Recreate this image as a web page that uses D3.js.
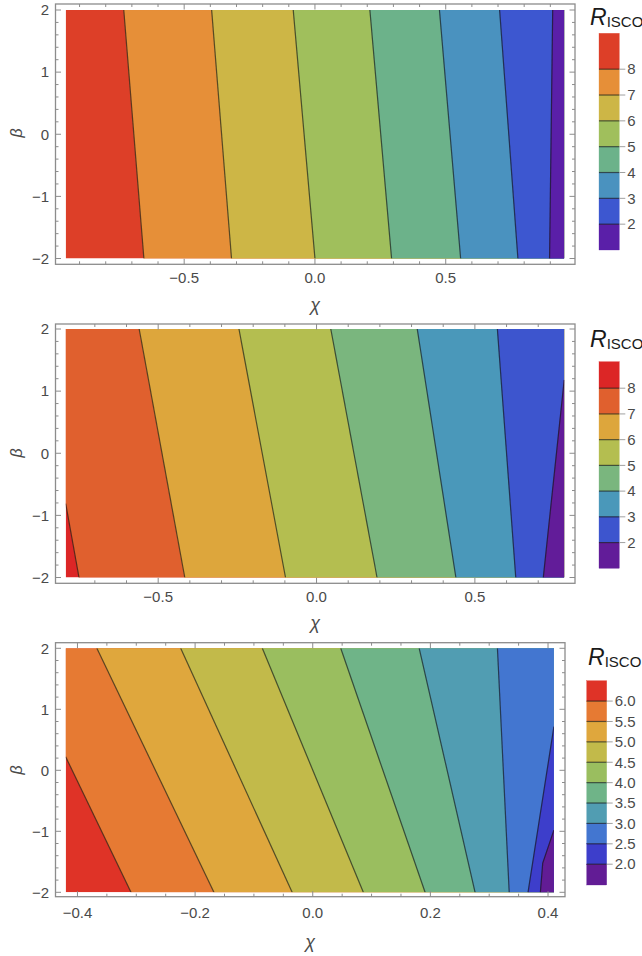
<!DOCTYPE html>
<html>
<head>
<meta charset="utf-8">
<script src="https://cdn.jsdelivr.net/npm/d3@7"></script>
<style>
  html, body { margin: 0; padding: 0; background: #fff; }
  svg { display: block; }
  text { font-family: "Liberation Sans", Arial, Helvetica, sans-serif; }
</style>
</head>
<body>
<svg id="chart" width="642" height="956"></svg>
<script>
// ---------------- DATA ----------------
const betaRange = [-2, 2];
const betaTicks = [-2, -1, 0, 1, 2];

// Panel 1
const chiRange1 = [-0.953, 0.953];
const chiTicks1 = [-0.5, 0.0, 0.5];
const levels1 = [8, 7, 6, 5, 4, 3, 2];
const colors1 = ["#dd3f28", "#e68f38", "#cdb646", "#a0bf5c", "#6cb28a", "#4a92bf", "#3d57d0", "#5a1fa8"];
const contours1 = [
  [[-0.731, 2], [-0.654, -2]],
  [[-0.395, 2], [-0.319, -2]],
  [[-0.083, 2], [0.000, -2]],
  [[0.210, 2], [0.293, -2]],
  [[0.476, 2], [0.557, -2]],
  [[0.706, 2], [0.776, -2]],
  [[0.909, 2], [0.897, -2]]
];
const legendRange1 = [1.0, 9.39];
const legendTicks1 = ["8", "7", "6", "5", "4", "3", "2"];

// Panel 2
const chiRange2 = [-0.792, 0.782];
const chiTicks2 = [-0.5, 0.0, 0.5];
const levels2 = [8, 7, 6, 5, 4, 3, 2];
const colors2 = ["#dc2626", "#e0602e", "#dda63c", "#b4be50", "#7ab67e", "#4a98ba", "#3d55ce", "#621c99"];
const contours2 = [
  [[-0.792, -0.81], [-0.750, -2]],
  [[-0.560, 2], [-0.416, -2]],
  [[-0.245, 2], [-0.098, -2]],
  [[0.045, 2], [0.191, -2]],
  [[0.318, 2], [0.440, -2]],
  [[0.571, 2], [0.629, -2]],
  [[0.782, 1.18], [0.716, -2]]
];
const legendRange2 = [1.0, 9.03];
const legendTicks2 = ["8", "7", "6", "5", "4", "3", "2"];

// Panel 3
const chiRange3 = [-0.42, 0.41];
const chiTicks3 = [-0.4, -0.2, 0.0, 0.2, 0.4];
const levels3 = [6.0, 5.5, 5.0, 4.5, 4.0, 3.5, 3.0, 2.5, 2.0];
const colors3 = ["#df3327", "#e67a33", "#dfa73d", "#c2ba4a", "#9abe5f", "#6fb488", "#519db2", "#4376d0", "#3d3ecb", "#621c95"];
const contours3 = [
  [[-0.42, 0.22], [-0.309, -2]],
  [[-0.367, 2], [-0.168, -2]],
  [[-0.2245, 2], [-0.035, -2]],
  [[-0.0857, 2], [0.086, -2]],
  [[0.0476, 2], [0.191, -2]],
  [[0.181, 2], [0.276, -2]],
  [[0.314, 2], [0.334, -2]],
  [[0.41, 0.715], [0.366, -2]],
  [[0.41, -0.98], [0.391, -1.52], [0.387, -2]]
];
const legendRange3 = [1.49, 6.5];
const legendTicks3 = ["6.0", "5.5", "5.0", "4.5", "4.0", "3.5", "3.0", "2.5", "2.0"];

// ---------------- LAYOUT ----------------
const panels = [
  { chiRange: chiRange1, chiTicks: chiTicks1, chiMinor: 0.1, levels: levels1, colors: colors1, contours: contours1,
    legendRange: legendRange1, legendTicks: legendTicks1, tickFmt: d3.format(".1f"),
    frame: [55.5, 4, 575, 264.3], plotX: [65.7, 564.2], plotY: [258.5, 10],
    xLabY: 277.5, chiY: 305, betaY: 133,
    bar: [599, 619.3], barY: [250, 33.3], titleX: 590, titleY: 25 },
  { chiRange: chiRange2, chiTicks: chiTicks2, chiMinor: 0.1, levels: levels2, colors: colors2, contours: contours2,
    legendRange: legendRange2, legendTicks: legendTicks2, tickFmt: d3.format(".1f"),
    frame: [55.5, 324, 575, 583.3], plotX: [65.7, 564.2], plotY: [577.5, 329],
    xLabY: 597, chiY: 623, betaY: 453,
    bar: [599, 619.3], barY: [568.3, 361.7], titleX: 590, titleY: 347 },
  { chiRange: chiRange3, chiTicks: chiTicks3, chiMinor: 0.05, levels: levels3, colors: colors3, contours: contours3,
    legendRange: legendRange3, legendTicks: legendTicks3, tickFmt: d3.format(".1f"),
    frame: [55.5, 642.7, 565, 896.7], plotX: [65.7, 553.9], plotY: [892.3, 648.3],
    xLabY: 913, chiY: 942, betaY: 770,
    bar: [586.7, 606.7], barY: [885, 680.7], titleX: 588, titleY: 665 }
];

const svg = d3.select("#chart");
const frameColor = "#8c8c8c";
const labelColor = "#4a4a4a";

function minusFmt(f) {
  return v => f(v).replace("-", "\u2212");
}

panels.forEach((P, pi) => {
  const g = svg.append("g");
  const x = d3.scaleLinear().domain(P.chiRange).range(P.plotX);
  const y = d3.scaleLinear().domain(betaRange).range(P.plotY);
  const [xd0, xd1] = P.chiRange;

  function perim(p) {
    const nx = (p[0] - xd0) / (xd1 - xd0), ny = (p[1] - betaRange[0]) / (betaRange[1] - betaRange[0]);
    const d = [1 - ny, 1 - nx, ny, nx];
    const e = d.indexOf(Math.min(...d));
    if (e === 0) return nx;
    if (e === 1) return 1 + (1 - ny);
    if (e === 2) return 2 + (1 - nx);
    return 3 + ny;
  }
  const corners = [[xd0, 2], [xd1, 2], [xd1, -2], [xd0, -2]];
  const mod4 = v => ((v % 4) + 4) % 4;
  function lowRegion(line) {
    const ts = perim(line[0]), te = perim(line[line.length - 1]);
    const span = mod4(te - ts);
    const cs = [0, 1, 2, 3].filter(c => mod4(te - c) < span && mod4(te - c) > 0)
      .sort((a, b) => mod4(te - a) - mod4(te - b));
    return line.concat(cs.map(c => corners[c]));
  }
  const path = d3.line().x(d => x(d[0])).y(d => y(d[1]));

  const clipId = "clip" + pi;
  g.append("clipPath").attr("id", clipId).append("rect")
    .attr("x", P.plotX[0]).attr("y", P.plotY[1])
    .attr("width", P.plotX[1] - P.plotX[0]).attr("height", P.plotY[0] - P.plotY[1]);
  const plot = g.append("g").attr("clip-path", `url(#${clipId})`);

  plot.append("rect")
    .attr("x", x(xd0)).attr("y", y(2))
    .attr("width", x(xd1) - x(xd0)).attr("height", y(-2) - y(2))
    .attr("fill", P.colors[0]);
  P.contours.forEach((line, i) => {
    plot.append("path")
      .attr("d", path(lowRegion(line)) + "Z")
      .attr("fill", P.colors[i + 1])
      .attr("stroke", P.colors[i + 1]).attr("stroke-width", 0.5);
  });
  P.contours.forEach(line => {
    plot.append("path").attr("d", path(line))
      .attr("fill", "none").attr("stroke", "rgba(20,20,20,0.65)").attr("stroke-width", 1.2);
  });

  const [fx0, fy0, fx1, fy1] = P.frame;
  g.append("rect").attr("x", fx0).attr("y", fy0).attr("width", fx1 - fx0).attr("height", fy1 - fy0)
    .attr("fill", "none").attr("stroke", frameColor).attr("stroke-width", 1.3);

  const tk = g.append("g").attr("stroke", frameColor).attr("stroke-width", 1);
  const eps = 1e-9;
  const xMin = d3.range(Math.ceil(xd0 / P.chiMinor - eps), Math.floor(xd1 / P.chiMinor + eps) + 1).map(k => k * P.chiMinor);
  xMin.forEach(v => {
    const major = P.chiTicks.some(t => Math.abs(t - v) < 1e-6);
    const L = major ? 5.5 : 3;
    tk.append("line").attr("x1", x(v)).attr("x2", x(v)).attr("y1", fy1).attr("y2", fy1 - L);
    tk.append("line").attr("x1", x(v)).attr("x2", x(v)).attr("y1", fy0).attr("y2", fy0 + L);
  });
  d3.range(-10, 11).map(k => k * 0.2).forEach(v => {
    const major = Math.abs(v - Math.round(v)) < 1e-6;
    const L = major ? 5.5 : 3;
    tk.append("line").attr("y1", y(v)).attr("y2", y(v)).attr("x1", fx0).attr("x2", fx0 + L);
    tk.append("line").attr("y1", y(v)).attr("y2", y(v)).attr("x1", fx1).attr("x2", fx1 - L);
  });

  const fmtX = minusFmt(P.tickFmt);
  P.chiTicks.forEach(v => {
    g.append("text").attr("x", x(v)).attr("y", P.xLabY).attr("dy", "0.35em")
      .attr("text-anchor", "middle").attr("font-size", 15).attr("fill", labelColor).text(fmtX(v));
  });
  const fmtY = minusFmt(d3.format("d"));
  betaTicks.forEach(v => {
    g.append("text").attr("x", 49).attr("y", y(v)).attr("dy", "0.35em")
      .attr("text-anchor", "end").attr("font-size", 15).attr("fill", labelColor).text(fmtY(v));
  });
  g.append("text").attr("x", (fx0 + fx1) / 2).attr("y", P.chiY).attr("dy", "0.35em")
    .attr("text-anchor", "middle").attr("font-size", 18).attr("font-style", "italic")
    .attr("fill", labelColor).text("\u03c7");
  g.append("text").attr("transform", `translate(16,${P.betaY}) rotate(-90)`).attr("dy", "0.35em")
    .attr("text-anchor", "middle").attr("font-size", 16).attr("font-style", "italic")
    .attr("fill", labelColor).text("\u03b2");

  const ly = d3.scaleLinear().domain(P.legendRange).range(P.barY);
  const bounds = [P.legendRange[1]].concat(P.levels).concat([P.legendRange[0]]);
  const lg = g.append("g");
  P.colors.forEach((c, i) => {
    lg.append("rect").attr("x", P.bar[0]).attr("width", P.bar[1] - P.bar[0])
      .attr("y", ly(bounds[i])).attr("height", ly(bounds[i + 1]) - ly(bounds[i]))
      .attr("fill", c).attr("stroke", c).attr("stroke-width", 0.3);
  });
  P.levels.forEach((lv, i) => {
    lg.append("line").attr("x1", P.bar[0]).attr("x2", P.bar[1]).attr("y1", ly(lv)).attr("y2", ly(lv))
      .attr("stroke", "rgba(20,20,20,0.65)").attr("stroke-width", 1.2);
    lg.append("line").attr("x1", P.bar[1]).attr("x2", P.bar[1] + 6).attr("y1", ly(lv)).attr("y2", ly(lv))
      .attr("stroke", "#a0a0a0").attr("stroke-width", 1);
    lg.append("text").attr("x", P.bar[1] + 8).attr("y", ly(lv)).attr("dy", "0.35em")
      .attr("font-size", 15).attr("fill", labelColor).text(P.legendTicks[i]);
  });
  const title = lg.append("text").attr("x", P.titleX).attr("y", P.titleY).attr("fill", "#1a1a1a");
  title.append("tspan").attr("font-size", 23).attr("font-style", "italic").text("R");
  title.append("tspan").attr("font-size", 15).attr("dy", 2).text("ISCO");
});
</script>
</body>
</html>
